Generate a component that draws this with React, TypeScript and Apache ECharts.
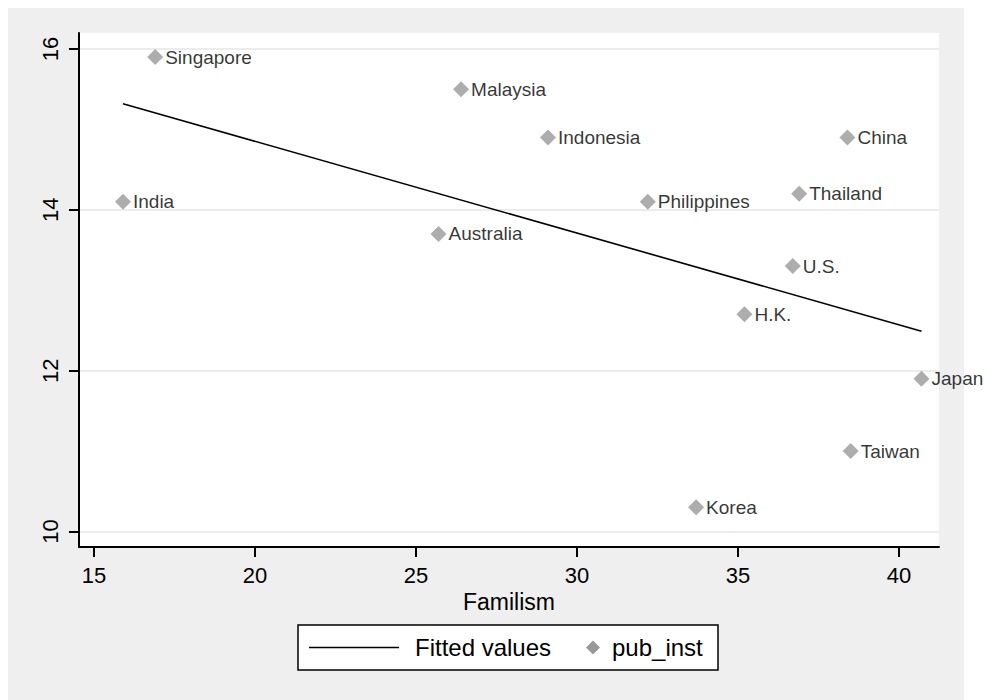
import React, { useEffect, useRef } from "react";
import * as echarts from "echarts";

const countries = ["Singapore", "India", "Malaysia", "Indonesia", "Philippines", "China", "Thailand", "U.S.", "H.K.", "Australia", "Japan", "Taiwan", "Korea"];
const familism = [16.9, 15.9, 26.4, 29.1, 32.2, 38.4, 36.9, 36.7, 35.2, 25.7, 40.7, 38.5, 33.7];
const pubInst = [15.9, 14.1, 15.5, 14.9, 14.1, 14.9, 14.2, 13.3, 12.7, 13.7, 11.9, 11.0, 10.3];
const fittedX = [15.9, 40.7];
const fittedY = [15.32, 12.49];
const xTicks = [15, 20, 25, 30, 35, 40];
const yTicks = [10, 12, 14, 16];
const seriesNames = ["Fitted values", "pub_inst"];
const xTitle = "Familism";

const FONT = 'Arial, "Liberation Sans", Helvetica, sans-serif';

export default function App() {
  const ref = useRef<HTMLDivElement>(null);
  useEffect(() => {
    if (!ref.current) return;
    const chart = echarts.init(ref.current, null, { renderer: "svg" });
    const lx = 290, ly = 617, lw = 420, lh = 45, lcy = ly + lh / 2;
    const dx = 585, ds = 7;
    chart.setOption({
      animation: false,
      backgroundColor: "transparent",
      textStyle: { fontFamily: FONT },
      grid: { left: 71, top: 25, right: 48, bottom: 153, show: true, backgroundColor: "#ffffff", borderWidth: 0 },
      xAxis: {
        type: "value",
        min: 14.534,
        max: 41.243,
        name: xTitle,
        nameLocation: "middle",
        nameGap: 39,
        nameTextStyle: { fontSize: 23, color: "#000", fontFamily: FONT },
        axisLine: { onZero: false, lineStyle: { color: "#000", width: 2 } },
        axisTick: { show: true, length: 10, customValues: xTicks, lineStyle: { color: "#000", width: 2 } },
        axisLabel: { customValues: xTicks, fontSize: 22, color: "#000", margin: 17, fontFamily: FONT },
        splitLine: { show: false },
      },
      yAxis: {
        type: "value",
        min: 9.807,
        max: 16.199,
        axisLine: { show: true, onZero: false, lineStyle: { color: "#000", width: 2 } },
        axisTick: { show: true, length: 10, customValues: yTicks, lineStyle: { color: "#000", width: 2 } },
        axisLabel: { customValues: yTicks, fontSize: 22, color: "#000", margin: 18, rotate: 90, fontFamily: FONT },
        splitLine: { show: true, lineStyle: { color: "#e6e6e6", width: 1.5 } },
      },
      series: [
        {
          name: seriesNames[0],
          type: "line",
          data: fittedX.map((x, i) => [x, fittedY[i]]),
          showSymbol: false,
          lineStyle: { color: "#000", width: 1.6 },
          z: 3,
        },
        {
          name: seriesNames[1],
          type: "scatter",
          data: familism.map((x, i) => [x, pubInst[i], countries[i]]),
          symbol: "diamond",
          symbolSize: 16,
          itemStyle: { color: "#999999" },
          label: {
            show: true,
            position: "right",
            distance: 2,
            formatter: (p: any) => p.data[2],
            fontSize: 19,
            color: "#000",
            fontFamily: FONT,
          },
          z: 4,
        },
      ],
      graphic: [
        { type: "rect", shape: { x: lx, y: ly, width: lw, height: lh }, style: { fill: "#fff", stroke: "#000", lineWidth: 1.5 } },
        { type: "line", shape: { x1: 301, y1: lcy, x2: 391, y2: lcy }, style: { stroke: "#000", lineWidth: 1.5 } },
        { type: "text", x: 407, y: lcy, style: { text: seriesNames[0], fontSize: 24, fill: "#000", fontFamily: FONT, verticalAlign: "middle", align: "left" } },
        { type: "polygon", shape: { points: [[dx, lcy - ds], [dx + ds, lcy], [dx, lcy + ds], [dx - ds, lcy]] }, style: { fill: "#999999" } },
        { type: "text", x: 604, y: lcy, style: { text: seriesNames[1], fontSize: 24, fill: "#000", fontFamily: FONT, verticalAlign: "middle", align: "left" } },
      ],
    });
    return () => chart.dispose();
  }, []);
  return (
    <>
      <div style={{ position: "absolute", left: 8, top: 8, width: 956, height: 692, background: "#efefef" }} />
      <div ref={ref} style={{ position: "absolute", left: 8, top: 8, width: 979, height: 692 }} />
    </>
  );
}
